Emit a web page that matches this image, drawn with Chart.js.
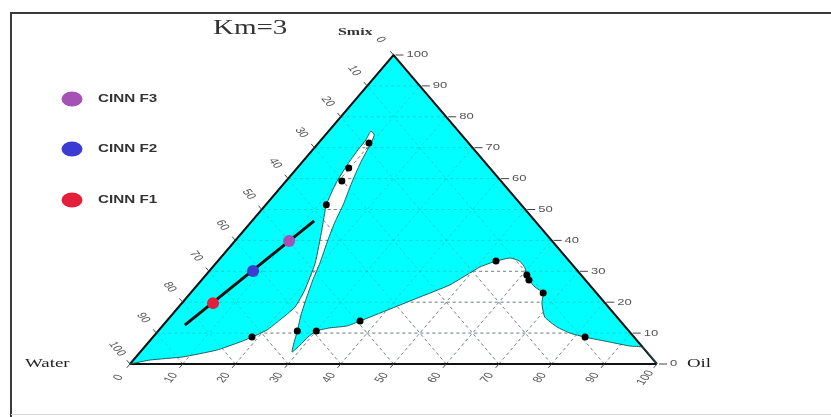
<!DOCTYPE html>
<html>
<head>
<meta charset="utf-8">
<script src="https://cdn.jsdelivr.net/npm/chart.js@4/dist/chart.umd.min.js"></script>
<style>
  body { margin: 0; background: #fff; }
  canvas { display: block; }
</style>
</head>
<body>
<canvas id="ternary" width="831" height="417"></canvas>
<script>
// all ternary values as [oil %, smix %] (water = 100 - oil - smix)

// edge of the one-phase (cyan) area, from the Water corner round to the Oil corner
const boundaryOil  = [0, 3.2, 8.9, 14.2, 17.3, 18.8, 20.5, 21.3, 22.1, 21.2, 18.8, 14.7, 11.5, 9.8, 9.0, 8.6, 8.5, 8.0,
                      9.3, 10.1, 11.0, 12.1, 13.1, 14.7, 15.9, 17.5, 19.7, 21.1, 22.7, 24.5, 26.4, 27.6, 28.8,
                      29.2, 29.4, 30.0, 32.1, 35.0, 36.7, 39.2, 44.2, 47.9, 50.7, 52.8, 55.0, 57.3, 59.4, 60.9, 62.1,
                      64.4, 66.9, 68.3, 71.1, 75.0, 78.5, 82.0, 87.5, 92.0, 94.6, 100];
const boundarySmix = [0, 1.3, 2.3, 4.5, 7.1, 8.7, 11.0, 14.2, 18.4, 23.9, 32.7, 43.4, 51.5, 58.6, 64.4, 69.3, 72.5, 75.4,
                      74.1, 70.9, 66.0, 61.2, 57.3, 51.5, 46.0, 40.1, 32.7, 27.2, 21.7, 15.9, 10.7, 7.1, 3.9,
                      6.1, 8.7, 10.7, 11.7, 12.3, 13.9, 16.5, 21.7, 25.6, 31.4, 33.3, 34.3, 33.3, 31.1, 28.8, 27.2,
                      24.9, 23.0, 19.7, 15.2, 12.0, 10.0, 8.7, 7.1, 5.8, 5.4, 0];

// titration points (black dots)
const pointOil  = [18.8, 26.4, 30.0, 36.7, 11.5, 10.6, 9.8, 9.6, 52.8, 60.9, 62.1, 66.9, 82.0];
const pointSmix = [8.7, 10.7, 10.7, 13.9, 51.5, 59.2, 63.4, 71.5, 33.3, 28.8, 27.2, 23.0, 8.7];

// dilution line and the three formulations on it
const lineOil  = [4.1, 11.8];
const lineSmix = [12.6, 46.3];
const formNames  = ['CINN F1', 'CINN F2', 'CINN F3'];
const formOil    = [5.9, 8.3, 10.3];
const formSmix   = [19.7, 30.1, 39.8];
const formColors = ['#e3203c', '#3c3cd2', '#a452b4'];

const tickValues = [0, 10, 20, 30, 40, 50, 60, 70, 80, 90, 100];

function toXY(oil, smix) {
    return { x: oil + smix / 2, y: smix };
}
function pairs(oils, smixes) {
    return oils.map((o, i) => toXY(o, smixes[i]));
}

const STRETCH = 1.45; // the original picture is squashed sideways

function px(chart, oil, smix) {
    const p = toXY(oil, smix);
    return [chart.scales.x.getPixelForValue(p.x), chart.scales.y.getPixelForValue(p.y)];
}

function drawText(ctx, str, x, y, font, align, angle, color) {
    ctx.save();
    ctx.translate(x, y);
    ctx.scale(STRETCH, 1);
    if (angle) ctx.rotate(angle);
    ctx.font = font;
    ctx.fillStyle = color || '#222';
    ctx.textAlign = align || 'left';
    ctx.textBaseline = 'middle';
    ctx.fillText(str, 0, 0);
    ctx.restore();
}

function gridPath(ctx, chart) {
    ctx.beginPath();
    for (let k = 10; k < 100; k += 10) {
        let a = px(chart, 0, k), b = px(chart, 100 - k, k);      // smix = k
        ctx.moveTo(a[0], a[1]); ctx.lineTo(b[0], b[1]);
        a = px(chart, k, 0); b = px(chart, k, 100 - k);          // oil = k
        ctx.moveTo(a[0], a[1]); ctx.lineTo(b[0], b[1]);
        a = px(chart, 100 - k, 0); b = px(chart, 0, 100 - k);    // water = k
        ctx.moveTo(a[0], a[1]); ctx.lineTo(b[0], b[1]);
    }
}

const ternaryDecor = {
    id: 'ternaryDecor',
    beforeDatasetsDraw(chart) {
        const ctx = chart.ctx;
        ctx.save();
        ctx.setLineDash([3, 3]);
        ctx.lineWidth = 1;
        // faint grid over the cyan
        ctx.strokeStyle = 'rgba(0,110,110,0.28)';
        gridPath(ctx, chart);
        ctx.stroke();
        // stronger grid inside the white two-phase area
        const pts = chart.getDatasetMeta(3).data;
        ctx.beginPath();
        pts.forEach((p, i) => i ? ctx.lineTo(p.x, p.y) : ctx.moveTo(p.x, p.y));
        ctx.closePath();
        ctx.clip();
        ctx.strokeStyle = 'rgba(110,110,110,0.75)';
        gridPath(ctx, chart);
        ctx.stroke();
        ctx.restore();
    },
    afterDraw(chart) {
        const ctx = chart.ctx;
        const W = px(chart, 0, 0), O = px(chart, 100, 0), S = px(chart, 0, 100);

        // frame
        ctx.save();
        ctx.strokeStyle = '#3a3a3a';
        ctx.lineWidth = 2;
        ctx.beginPath();
        ctx.moveTo(831, 13); ctx.lineTo(11, 13); ctx.lineTo(11, 417);
        ctx.stroke();
        ctx.strokeStyle = '#d8d8d8';
        ctx.lineWidth = 1;
        ctx.beginPath();
        ctx.moveTo(11, 414.5); ctx.lineTo(831, 414.5);
        ctx.stroke();
        ctx.restore();

        // unit directions for the ticks
        let len = Math.hypot(W[0] - S[0], W[1] - S[1]);
        const dirBottom = [(W[0] - S[0]) / len, (W[1] - S[1]) / len];
        len = Math.hypot(S[0] - O[0], S[1] - O[1]);
        const dirLeft = [(S[0] - O[0]) / len, (S[1] - O[1]) / len];

        ctx.save();
        ctx.strokeStyle = '#444';
        ctx.lineWidth = 1;
        const tickFont = '9px "Liberation Sans"';
        tickValues.forEach(k => {
            // bottom: oil
            let p = px(chart, k, 0);
            ctx.beginPath();
            ctx.moveTo(p[0], p[1]); ctx.lineTo(p[0] + dirBottom[0] * 5, p[1] + dirBottom[1] * 5);
            ctx.stroke();
            drawText(ctx, String(k), p[0] + dirBottom[0] * 18, p[1] + dirBottom[1] * 18, tickFont, 'center', -Math.PI / 3, '#555');
            // left: water
            p = px(chart, 0, 100 - k);
            ctx.beginPath();
            ctx.moveTo(p[0], p[1]); ctx.lineTo(p[0] + dirLeft[0] * 5, p[1] + dirLeft[1] * 5);
            ctx.stroke();
            drawText(ctx, String(k), p[0] + dirLeft[0] * 20, p[1] + dirLeft[1] * 20, tickFont, 'center', Math.PI / 3, '#555');
            // right: smix
            p = px(chart, 100 - k, k);
            ctx.beginPath();
            ctx.moveTo(p[0] + 2, p[1]); ctx.lineTo(p[0] + 10, p[1]);
            ctx.stroke();
            drawText(ctx, String(k), p[0] + 13, p[1], tickFont, 'left', 0, '#555');
        });
        ctx.restore();

        // titles
        drawText(ctx, 'Km=3', 213, 29, '20px "Liberation Serif"', 'left', 0, '#333');
        drawText(ctx, 'Smix', 338, 32, 'bold 11px "Liberation Serif"', 'left', 0, '#333');
        drawText(ctx, 'Water', 25, 364, '13px "Liberation Serif"', 'left', 0, '#222');
        drawText(ctx, 'Oil', 687, 364, '13px "Liberation Serif"', 'left', 0, '#222');

        // legend, F3 on top
        const legendY = [200, 149, 99];
        formNames.forEach((name, i) => {
            ctx.save();
            ctx.fillStyle = formColors[i];
            ctx.beginPath();
            ctx.ellipse(72, legendY[i], 10.5, 7.5, 0, 0, Math.PI * 2);
            ctx.fill();
            ctx.restore();
            drawText(ctx, name, 98, legendY[i], 'bold 10.5px "Liberation Sans"', 'left', 0, '#333');
        });
    }
};

new Chart(document.getElementById('ternary'), {
    type: 'line',
    data: {
        datasets: [
            {   // formulations
                data: pairs(formOil, formSmix),
                showLine: false,
                pointRadius: 6,
                pointBackgroundColor: formColors,
                pointBorderWidth: 0,
                order: 0
            },
            {   // dilution line
                data: pairs(lineOil, lineSmix),
                borderColor: '#111',
                borderWidth: 3,
                pointRadius: 0,
                order: 1
            },
            {   // titration points
                data: pairs(pointOil, pointSmix),
                showLine: false,
                pointRadius: 3.5,
                pointBackgroundColor: '#000',
                pointBorderWidth: 0,
                order: 2
            },
            {   // two-phase (white) area
                data: pairs(boundaryOil, boundarySmix),
                borderColor: '#1f5f5f',
                borderWidth: 1,
                backgroundColor: '#ffffff',
                fill: 'origin',
                tension: 0.15,
                pointRadius: 0,
                order: 3
            },
            {   // base of the triangle
                data: pairs([0, 100], [0, 0]),
                borderColor: '#111',
                borderWidth: 2,
                pointRadius: 0,
                order: 4
            },
            {   // the triangle, filled cyan
                data: pairs([0, 0, 100], [0, 100, 0]),
                borderColor: '#111',
                borderWidth: 2,
                backgroundColor: '#00ffff',
                fill: 'origin',
                pointRadius: 0,
                order: 5
            }
        ]
    },
    options: {
        responsive: false,
        animation: false,
        devicePixelRatio: 1,
        clip: false,
        layout: { padding: { left: 130, right: 174, top: 55, bottom: 53 } },
        scales: {
            x: { type: 'linear', min: 0, max: 100, display: false },
            y: { type: 'linear', min: 0, max: 100, display: false }
        },
        plugins: {
            legend: { display: false },
            tooltip: { enabled: false },
            filler: { drawTime: 'beforeDraw' }
        }
    },
    plugins: [ternaryDecor]
});
</script>
</body>
</html>
